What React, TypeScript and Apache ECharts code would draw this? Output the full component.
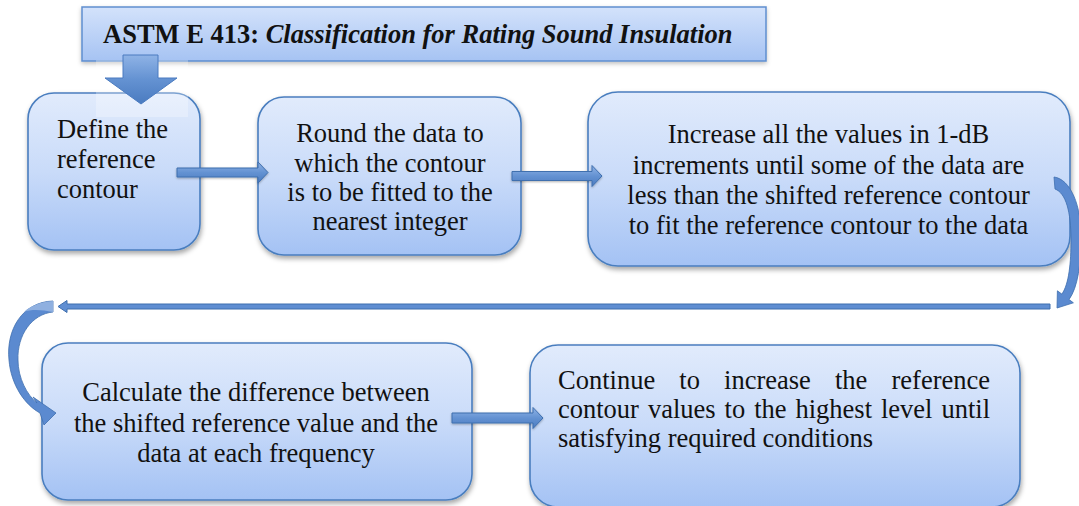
import React, { useEffect, useRef } from "react";
import * as echarts from "echarts";

// ---- content ----
const TITLE_BOLD = "ASTM E 413:";
const TITLE_ITALIC = "Classification for Rating Sound Insulation";
const STEP_DEFINE = ["Define the", "reference", "contour"];
const STEP_ROUND = ["Round the data to", "which the contour", "is to be fitted to the", "nearest integer"];
const STEP_INCREASE = [
  "Increase all the values in 1-dB",
  "increments until some of the data are",
  "less than the shifted reference contour",
  "to fit the reference contour to the data",
];
const STEP_CALC = ["Calculate the difference between", "the shifted reference value and the", "data at each frequency"];
const STEP_CONTINUE = [
  "Continue to increase the reference",
  "contour values to the highest level until",
  "satisfying required conditions",
];

const FONT = "Liberation Serif, Tinos, DejaVu Serif, serif";
const FS = 26.5;

const CURVE_LEFT =
  "M53,301 C22,302 6,330 9,360 C11,385 25,405 40,413 L44,425 L56,413 L33,397 L37,403 C27,395 18,378 18,360 C17,335 32,314 53,312 Z";
const CURVE_LEFT_FACE = "M53,301 C40,302 30,306 24,312 C32,309 42,310 53,312 Z";
const CURVE_RIGHT =
  "M1054,177 C1070,179 1082,205 1081,240 C1081,262 1078,287.5 1069,299.5 L1073.4,302.8 L1057,308 L1057.4,290.8 L1061.8,294.1 C1069,284.5 1071,262 1071,240 C1071,212 1066,193 1055,189 Z";

echarts.graphic.registerShape("curveLeftArrow", echarts.graphic.extendPath(CURVE_LEFT, {}));
echarts.graphic.registerShape("curveLeftFace", echarts.graphic.extendPath(CURVE_LEFT_FACE, {}));
echarts.graphic.registerShape("curveRightArrow", echarts.graphic.extendPath(CURVE_RIGHT, {}));

const boxFill = () =>
  new echarts.graphic.LinearGradient(0, 0, 0, 1, [
    { offset: 0, color: "#e1ebfc" },
    { offset: 0.5, color: "#c9dbf9" },
    { offset: 1, color: "#a4c2f4" },
  ]);
const titleFill = () =>
  new echarts.graphic.LinearGradient(0, 0, 0, 1, [
    { offset: 0, color: "#d3e2fb" },
    { offset: 1, color: "#a6c3f3" },
  ]);
const arrowFill = () =>
  new echarts.graphic.LinearGradient(0, 0, 0, 1, [
    { offset: 0, color: "#8fb3e6" },
    { offset: 0.5, color: "#6492d2" },
    { offset: 1, color: "#4a7bc0" },
  ]);

function box(x: number, y: number, w: number, h: number, r: number) {
  return {
    type: "rect",
    z: 1,
    shape: { x, y, width: w, height: h, r },
    style: {
      fill: boxFill(),
      stroke: "#4a7ebf",
      lineWidth: 1.6,
      shadowBlur: 5,
      shadowOffsetX: 1,
      shadowOffsetY: 3,
      shadowColor: "rgba(0,0,0,0.35)",
    },
  };
}

function rightArrow(x0: number, xh: number, tip: number, y: number, sh: number, hh: number) {
  return {
    type: "polygon",
    z: 5,
    shape: {
      points: [
        [x0, y - sh],
        [xh, y - sh],
        [xh, y - hh],
        [tip, y],
        [xh, y + hh],
        [xh, y + sh],
        [x0, y + sh],
      ],
    },
    style: { fill: arrowFill(), stroke: "#3f6fae", lineWidth: 1, shadowBlur: 2, shadowOffsetY: 1, shadowColor: "rgba(0,0,0,0.3)" },
  };
}

const RICH = {
  n: { fontFamily: FONT, fontSize: FS, fontWeight: "normal", fontStyle: "normal", fill: "#111" },
};

function linesText(lines: string[], x: number, ys: number[], align: string) {
  return lines.map((t, i) => ({
    type: "text",
    z: 10,
    x,
    y: ys[i],
    style: {
      legacy: false,
      text: `{n|${t}}`,
      rich: RICH,
      fontFamily: FONT,
      fontSize: FS,
      fontWeight: "normal",
      fontStyle: "normal",
      fill: "#111",
      align,
      verticalAlign: "middle",
    },
  }));
}

function justifiedText(lines: string[], x0: number, x1: number, ys: number[]) {
  const canvas = document.createElement("canvas");
  const ctx = canvas.getContext("2d") as CanvasRenderingContext2D;
  ctx.font = `normal normal ${FS}px ${FONT}`;
  const out: any[] = [];
  lines.forEach((line, i) => {
    const words = line.split(" ");
    if (i === lines.length - 1 || words.length < 2) {
      out.push(...linesText([line], x0, [ys[i]], "left"));
      return;
    }
    const widths = words.map((w) => ctx.measureText(w).width);
    const total = widths.reduce((a, b) => a + b, 0);
    const gap = (x1 - x0 - total) / (words.length - 1);
    let cx = x0;
    words.forEach((w, j) => {
      out.push(...linesText([w], cx, [ys[i]], "left"));
      cx += widths[j] + gap;
    });
  });
  return out;
}

export default function App() {
  const ref = useRef<HTMLDivElement>(null);
  useEffect(() => {
    document.body.style.margin = "0";
    const chart = echarts.init(ref.current as HTMLDivElement, null, { renderer: "svg" });
    const elements: any[] = [
      // title box
      {
        type: "rect",
        z: 1,
        shape: { x: 82, y: 7, width: 684, height: 54 },
        style: { fill: titleFill(), stroke: "#5f8fd0", lineWidth: 1.5, shadowBlur: 4, shadowOffsetY: 2, shadowColor: "rgba(0,0,0,0.25)" },
      },
      {
        type: "text",
        z: 10,
        x: 103,
        y: 34,
        style: {
          legacy: false,
          text: `{b|${TITLE_BOLD}} {i|${TITLE_ITALIC}}`,
          rich: {
            b: { fontFamily: FONT, fontSize: 26.5, fontWeight: "bold", fill: "#111" },
            i: { fontFamily: FONT, fontSize: 26.5, fontWeight: "bold", fontStyle: "italic", fill: "#111" },
          },
          fill: "#111",
          fontFamily: FONT,
          fontSize: 26.5,
          fontWeight: "bold",
          verticalAlign: "middle",
        },
      },
      // boxes
      box(28, 93, 172, 157, 26),
      box(258, 97, 263, 158, 26),
      box(588, 92, 482, 174, 30),
      box(42, 343, 430, 157, 26),
      box(530, 345, 490, 162, 28),
      // faint highlight behind the down arrow
      {
        type: "rect",
        z: 3,
        shape: { x: 96, y: 60, width: 92, height: 57 },
        style: { fill: "rgba(255,255,255,0.28)" },
      },
      // down arrow
      {
        type: "polygon",
        z: 5,
        shape: {
          points: [
            [123, 55],
            [158, 55],
            [158, 78],
            [177, 78],
            [141, 104],
            [105, 78],
            [123, 78],
          ],
        },
        style: { fill: arrowFill(), stroke: "#4a7bc0", lineWidth: 1 },
      },
      rightArrow(177, 258, 268, 172.5, 4.5, 10.5),
      rightArrow(512, 592, 602, 176, 4.5, 10.5),
      rightArrow(452, 533, 543, 418, 5, 10.5),
      // long return arrow
      {
        type: "polygon",
        z: 5,
        shape: {
          points: [
            [1050, 304],
            [67, 304],
            [67, 300.5],
            [58, 306.5],
            [67, 312.5],
            [67, 309],
            [1050, 309],
          ],
        },
        style: { fill: "#5f8ed2", stroke: "#3f6fae", lineWidth: 1 },
      },
      {
        type: "curveRightArrow",
        z: 5,
        x: 0,
        y: 0,
        style: { fill: "#5b8ad0", stroke: "#3f6fae", lineWidth: 0.8 },
      },
      {
        type: "curveLeftArrow",
        z: 5,
        x: 0,
        y: 0,
        style: { fill: "#5b8ad0", stroke: "#3f6fae", lineWidth: 0.8 },
      },
      {
        type: "curveLeftFace",
        z: 6,
        x: 0,
        y: 0,
        style: { fill: "#8fb0e0" },
      },
      ...linesText(STEP_DEFINE, 57, [128.5, 158.5, 188.5], "left"),
      ...linesText(STEP_ROUND, 390, [133, 162.5, 192, 221], "center"),
      ...linesText(STEP_INCREASE, 828.5, [134, 164.5, 195, 225], "center"),
      ...linesText(STEP_CALC, 256, [391.5, 422.5, 453], "center"),
      ...justifiedText(STEP_CONTINUE, 558, 990, [380, 409, 438]),
    ];
    chart.setOption({ animation: false, graphic: { elements } });
    return () => chart.dispose();
  }, []);
  return <div ref={ref} style={{ width: 1079, height: 506, background: "#fff" }} />;
}
